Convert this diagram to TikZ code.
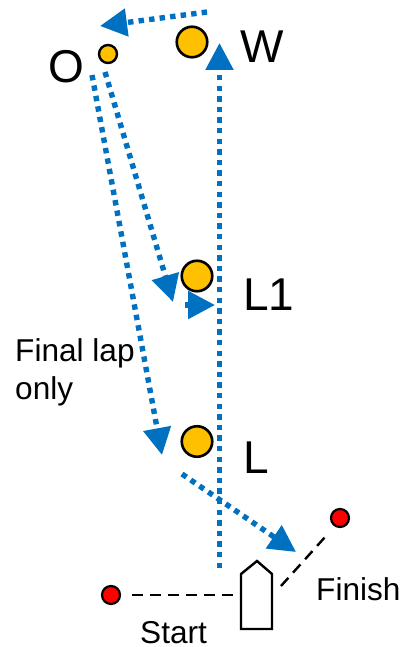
\documentclass[tikz,border=0pt]{standalone}
\usepackage{fontspec}
\setmainfont{Liberation Sans}
\usetikzlibrary{arrows.meta}
\definecolor{rblue}{HTML}{0070C0}
\definecolor{ryellow}{HTML}{FFC000}
\definecolor{rred}{HTML}{FF0000}
\tikzset{
  x=1pt,y=-1pt,
  course/.style={draw=rblue,line width=5.4pt,dash pattern=on 5.4pt off 5.2pt,-{Triangle[length=27pt,width=27pt,fill=rblue,color=rblue,sep=0pt]}},
  mark big/.style={circle,draw=black,line width=2.6pt,fill=ryellow,minimum size=30.5pt,inner sep=0pt},
  mark small/.style={circle,draw=black,line width=2.4pt,fill=ryellow,minimum size=18pt,inner sep=0pt},
  mark red/.style={circle,draw=black,line width=2.2pt,fill=rred,minimum size=18pt,inner sep=0pt},
  bigtext/.style={anchor=base west,inner sep=0pt,font=\fontsize{46}{46}\selectfont},
  smalltext/.style={anchor=base west,inner sep=0pt,font=\fontsize{31.6}{38}\selectfont},
  gate/.style={draw=black,line width=2.4pt,dash pattern=on 11pt off 7pt},
}
\begin{document}
\begin{tikzpicture}
\useasboundingbox (0,0) rectangle (401,647);
% course coordinates
\coordinate (upS) at (219.5,568);
\coordinate (upE) at (219.5,43);
\coordinate (topS) at (207,12);
\coordinate (topE) at (100,26);
\coordinate (oa) at (105,72);
\coordinate (oaE) at (173,302);
\coordinate (stubS) at (185,305);
\coordinate (stubE) at (215,305);
\coordinate (ob) at (92,75);
\coordinate (obE) at (162,455);
\coordinate (lfS) at (182,474);
\coordinate (lfE) at (296,552);
% marks
\node[mark big] (W) at (192,42) {};
\node[mark small] (O) at (108,54) {};
\node[mark big] (L1) at (197,276) {};
\node[mark big] (L) at (197,441.5) {};
\node[mark red] (startmark) at (111,595) {};
\node[mark red] (finishmark) at (340,518) {};
% arrows
\draw[course] (upS) -- (upE);
\draw[course] (topS) -- (topE);
\draw[course] (oa) -- (oaE);
\draw[course] (stubS) -- (stubE);
\draw[course] (ob) -- (obE);
\draw[course] (lfS) -- (lfE);
% committee boat
\draw[black,line width=2.4pt,fill=white,line join=miter] (241,574) -- (257,561) -- (272,574) -- (272,629) -- (241,629) -- cycle;
% gates
\coordinate (startgate) at (233,595);
\coordinate (startgateL) at (132,595);
\coordinate (fingateL) at (281,586);
\coordinate (fingateR) at (326,536);
\draw[gate] (startgateL) -- (startgate);
\draw[gate] (fingateL) -- (fingateR);
% labels
\node[bigtext] (tW) at (240,63) {W};
\node[bigtext] (tO) at (48,83) {O};
\node[bigtext] (tL1) at (243,310) {L1};
\node[bigtext] (tL) at (243,473) {L};
\node[smalltext] (tFin) at (316,600) {Finish};
\node[smalltext] (tSt) at (140,643) {Start};
\node[smalltext] (tF1) at (15,361) {Final lap};
\node[smalltext] (tF2) at (15,399) {only};
\end{tikzpicture}
\end{document}
